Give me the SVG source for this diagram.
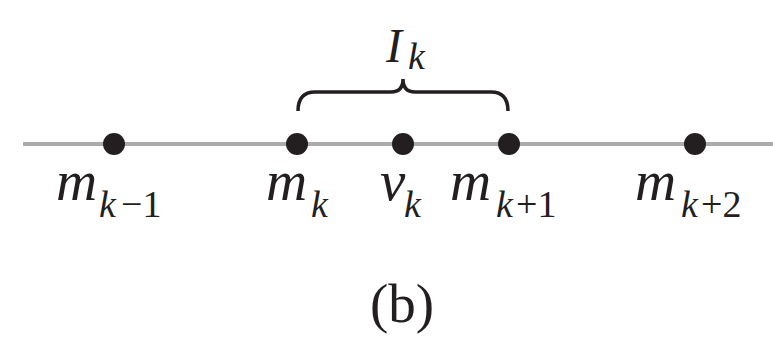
<svg xmlns="http://www.w3.org/2000/svg" width="773" height="337" viewBox="0 0 773 337">
<style>
.v{font-family:"Liberation Serif","Times New Roman",serif;font-style:italic;font-size:57px;fill:#231f20}
.s{font-size:38px}
.n{font-style:normal}
.dot{fill:#231f20}
</style>
<rect width="773" height="337" fill="#fff"/>
<g id="connectors">
<line x1="23" y1="144" x2="773" y2="144" stroke="#ababab" stroke-width="4"/>
<path id="brace" d="M298,111 Q298,92 315,92 L391,92 Q403,92 403,79 Q403,92 415,92 L491,92 Q508,92 508,111" fill="none" stroke="#231f20" stroke-width="3.5"/>
</g>
<g id="n1"><circle class="dot" cx="114" cy="144" r="11"/><text class="v" x="56" y="200">m<tspan class="s" x="99" dy="17">k</tspan><tspan class="s n" x="121">−1</tspan></text></g>
<g id="n2"><circle class="dot" cx="297" cy="144" r="11"/><text class="v" x="266" y="200">m<tspan class="s" x="311" dy="17">k</tspan></text></g>
<g id="n3"><circle class="dot" cx="403" cy="144" r="11"/><text class="v" x="380" y="200">v<tspan class="s" x="404" dy="17">k</tspan></text></g>
<g id="n4"><circle class="dot" cx="509" cy="144" r="11"/><text class="v" x="450" y="200">m<tspan class="s" x="496" dy="17">k</tspan><tspan class="s n" x="516">+1</tspan></text></g>
<g id="n5"><circle class="dot" cx="695" cy="144" r="11"/><text class="v" x="635" y="200">m<tspan class="s" x="681" dy="17">k</tspan><tspan class="s n" x="701">+2</tspan></text></g>
<g id="label"><text class="v" x="386" y="62" style="font-size:48px">I<tspan class="s" x="408" dy="7">k</tspan></text></g>
<g id="caption"><text class="v n" x="402" y="322" text-anchor="middle" style="font-style:normal;font-size:55px">(b)</text></g>
</svg>
